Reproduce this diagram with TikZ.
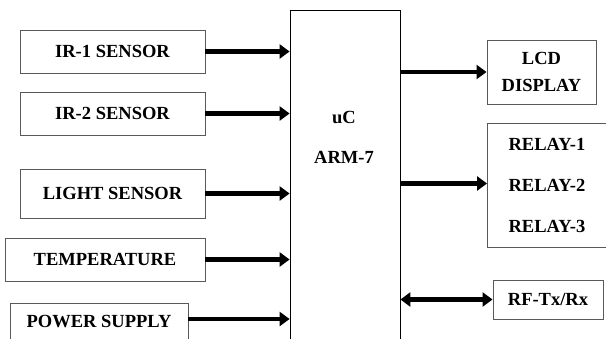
\documentclass[tikz,border=0pt]{standalone}
\usepackage{fontspec}
\setmainfont{Liberation Serif}
\usepackage{tikz}
\usetikzlibrary{arrows.meta}

\begin{document}
\begin{tikzpicture}[x=1pt, y=-1pt,
    block/.style={draw=black!65, line width=0.9pt, inner sep=0pt,
      align=center, font=\fontsize{18.5}{22}\selectfont\bfseries},
    sig/.style={line width=4.2pt, -{Triangle[length=10pt,width=14pt]}},
    bisig/.style={line width=4.2pt,
      {Triangle[length=10pt,width=14pt]}-{Triangle[length=10pt,width=14pt]}}]
  % ── Frame ─────────────────────────────────────────────────
  \useasboundingbox (0,0) rectangle (606,338);
  \clip (0,0) rectangle (606,338);

  % ── Controller ────────────────────────────────────────────
  \node[draw=black, line width=0.8pt, minimum width=110pt,
        minimum height=335pt] (uc) at (345,177.5) {};
  \node[align=center, font=\fontsize{18.5}{40}\selectfont\bfseries]
    (uclabel) at (344,137) {uC\\ARM-7};

  % ── Inputs ────────────────────────────────────────────────
  \node[block, minimum width=185pt, minimum height=43pt]
    (ir1) at (112.5,51.5) {IR-1 SENSOR};
  \node[block, minimum width=185pt, minimum height=43pt]
    (ir2) at (112.5,113.5) {IR-2 SENSOR};
  \node[block, minimum width=185pt, minimum height=49pt]
    (light) at (112.5,193.5) {LIGHT SENSOR};
  \node[block, minimum width=200pt, minimum height=43pt]
    (temp) at (105,259.5) {TEMPERATURE};
  \node[block, minimum width=178pt, minimum height=38pt]
    (power) at (99,322) {POWER SUPPLY};

  % ── Outputs ───────────────────────────────────────────────
  \node[block, minimum width=109pt, minimum height=64pt,
        font=\fontsize{18.5}{27}\selectfont\bfseries]
    (lcd) at (541.5,72) {LCD\\DISPLAY};
  % relay box runs off the right edge
  \node[block, draw=none, minimum width=119pt, minimum height=123pt,
        font=\fontsize{18.5}{41}\selectfont\bfseries]
    (relay) at (547,185.5) {RELAY-1\\RELAY-2\\RELAY-3};
  \draw[black!65, line width=0.9pt] ([xshift=10pt]relay.north east)
    -- (relay.north west) -- (relay.south west)
    -- ([xshift=10pt]relay.south east);
  \node[block, minimum width=110pt, minimum height=39pt]
    (rf) at (548,299.5) {RF-Tx/Rx};

  % ── Signals ───────────────────────────────────────────────
  \draw[sig] (ir1.east) -- (ir1.east -| uc.west);
  \draw[sig] (ir2.east) -- (ir2.east -| uc.west);
  \draw[sig] (light.east) -- (light.east -| uc.west);
  \draw[sig] (temp.east) -- (temp.east -| uc.west);
  \draw[sig] ([yshift=3pt]power.east) -- ([yshift=3pt]power.east -| uc.west);
  \draw[sig] (lcd.west -| uc.east) -- (lcd.west);
  \draw[sig] ([yshift=2pt]relay.west -| uc.east) -- ([yshift=2pt]relay.west);
  \draw[bisig] (rf.west -| uc.east) -- (rf.west);
\end{tikzpicture}
\end{document}
